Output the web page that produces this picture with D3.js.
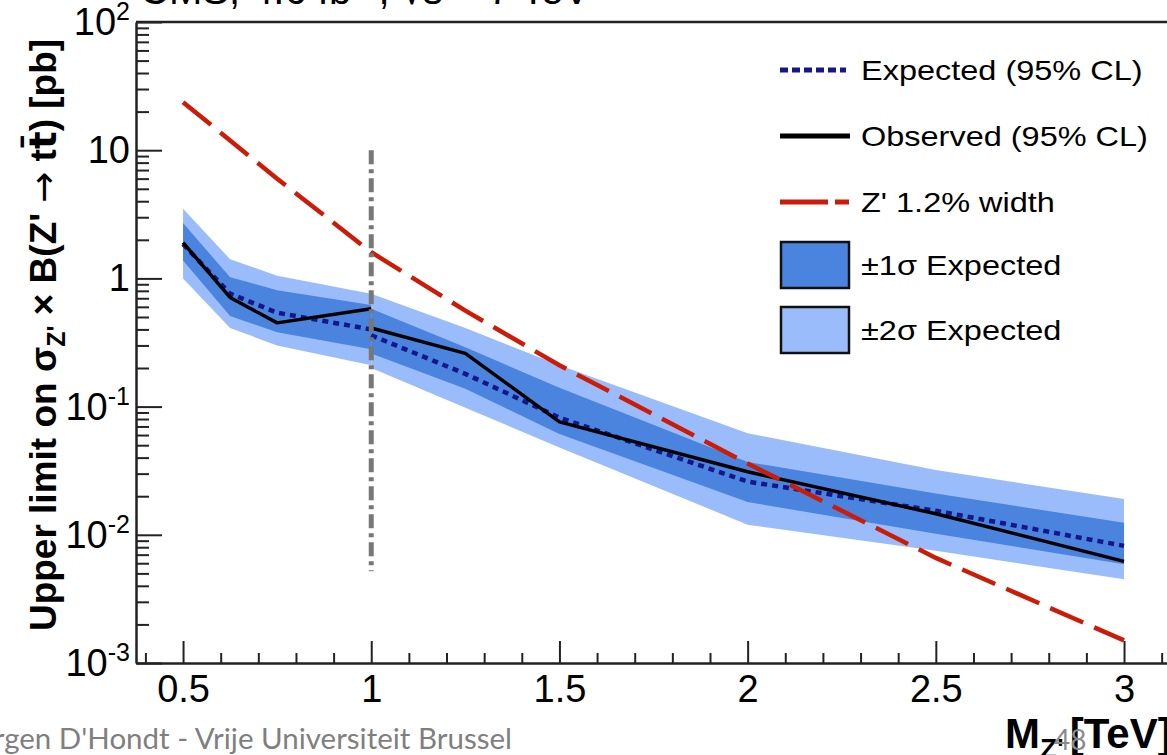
<!DOCTYPE html>
<html>
<head>
<meta charset="utf-8">
<script src="https://cdn.jsdelivr.net/npm/d3@7"></script>
<style>
  body { margin: 0; background: #fff; }
  svg { display: block; }
</style>
</head>
<body>
<svg id="chart" width="1167" height="755"></svg>
<script>
// Low-mass analysis (M_Z' up to 1 TeV)
const massLow = [0.5, 0.625, 0.75, 1.0];
const observedLow = [1.9, 0.71, 0.45, 0.58];
const expectedLow = [1.85, 0.76, 0.54, 0.40];
const sigma1LoLow = [1.38, 0.51, 0.38, 0.28];
const sigma1HiLow = [2.7, 1.02, 0.81, 0.62];
const sigma2LoLow = [1.0, 0.41, 0.30, 0.21];
const sigma2HiLow = [3.5, 1.41, 1.05, 0.76];

// High-mass analysis (M_Z' from 1 TeV)
const massHigh = [1.0, 1.25, 1.5, 2.0, 2.5, 3.0];
const observedHigh = [0.41, 0.26, 0.076, 0.031, 0.0146, 0.0062];
const expectedHigh = [0.36, 0.18, 0.082, 0.026, 0.0154, 0.0082];
const sigma1LoHigh = [0.26, 0.138, 0.061, 0.018, 0.0102, 0.0059];
const sigma1HiHigh = [0.58, 0.29, 0.14, 0.037, 0.021, 0.0124];
const sigma2LoHigh = [0.20, 0.098, 0.048, 0.012, 0.0075, 0.0045];
const sigma2HiHigh = [0.76, 0.41, 0.21, 0.062, 0.032, 0.019];

// Theory prediction, Z' with 1.2% width
const massTheory = [0.5, 0.75, 1.0, 1.25, 1.5, 2.0, 2.5, 3.0];
const xsecTheory = [23.7, 6.0, 1.6, 0.56, 0.21, 0.036, 0.0066, 0.0015];

// Boundary between the two analyses
const boundaryMass = 1.0;
const boundaryRange = [10, 0.0052];

// Axis ticks
const xMajorTicks = [0.5, 1, 1.5, 2, 2.5, 3];
const xTickLabels = ["0.5", "1", "1.5", "2", "2.5", "3"];
const yMajorTicks = [1e2, 1e1, 1, 1e-1, 1e-2, 1e-3];
const yTickBase = ["10", "10", "1", "10", "10", "10"];
const yTickExp = ["2", "", "", "-1", "-2", "-3"];

const legendLabels = ["Expected (95% CL)", "Observed (95% CL)", "Z' 1.2% width", "\u00B11\u03C3 Expected", "\u00B12\u03C3 Expected"];

const colDark = "#4a84de", colLight = "#9bbcfa", colExp = "#16168c", colObs = "#000", colTheory = "#cc1c08";

const svg = d3.select("#chart");
const font = "'Liberation Sans', Arial, Helvetica, sans-serif";

const x = d3.scaleLinear().domain([0.375, 3.2]).range([136, 1199.3]);
const y = d3.scaleLog().domain([1e-3, 1e2]).range([663, 22]);

svg.append("defs").append("clipPath").attr("id", "plotClip")
  .append("rect").attr("x", 136).attr("y", 22).attr("width", 1100).attr("height", 641);

const plot = svg.append("g").attr("clip-path", "url(#plotClip)");

const zip = (m, v) => m.map((d, i) => ({ m: d, v: v[i] }));
const band = (m, lo, hi) => m.map((d, i) => ({ m: d, lo: lo[i], hi: hi[i] }));

const area = d3.area().x(d => x(d.m)).y0(d => y(d.lo)).y1(d => y(d.hi));
const line = d3.line().x(d => x(d.m)).y(d => y(d.v));

// uncertainty bands
[[massLow, sigma2LoLow, sigma2HiLow], [massHigh, sigma2LoHigh, sigma2HiHigh]].forEach(([m, lo, hi]) => {
  plot.append("path").datum(band(m, lo, hi)).attr("d", area).attr("fill", colLight);
});
[[massLow, sigma1LoLow, sigma1HiLow], [massHigh, sigma1LoHigh, sigma1HiHigh]].forEach(([m, lo, hi]) => {
  plot.append("path").datum(band(m, lo, hi)).attr("d", area).attr("fill", colDark);
});

// expected limit
[[massLow, expectedLow], [massHigh, expectedHigh]].forEach(([m, v]) => {
  plot.append("path").datum(zip(m, v)).attr("d", line)
    .attr("fill", "none").attr("stroke", colExp).attr("stroke-width", 4.5)
    .attr("stroke-dasharray", "6,5");
});

// observed limit
[[massLow, observedLow], [massHigh, observedHigh]].forEach(([m, v]) => {
  plot.append("path").datum(zip(m, v)).attr("d", line)
    .attr("fill", "none").attr("stroke", colObs).attr("stroke-width", 3.5)
    .attr("stroke-linejoin", "round");
});

// theory curve
plot.append("path").datum(zip(massTheory, xsecTheory)).attr("d", line)
  .attr("fill", "none").attr("stroke", colTheory).attr("stroke-width", 4.5)
  .attr("stroke-dasharray", "36,12");

// analysis boundary
plot.append("line")
  .attr("x1", x(boundaryMass)).attr("x2", x(boundaryMass))
  .attr("y1", y(boundaryRange[0])).attr("y2", y(boundaryRange[1]))
  .attr("stroke", "#777").attr("stroke-width", 5)
  .attr("stroke-dasharray", "14,5,4,5");

// x axis: major and minor ticks pointing inward
const xMinor = d3.range(4, 32).map(d => d / 10).filter(d => Math.abs(d * 2 - Math.round(d * 2)) > 1e-6);
const xAxisMajor = svg.append("g").attr("transform", "translate(0,663)")
  .call(d3.axisBottom(x).tickValues(xMajorTicks).tickSizeInner(-22).tickSizeOuter(0).tickPadding(12)
    .tickFormat((d, i) => xTickLabels[i]));
xAxisMajor.selectAll("text").attr("font-family", font).attr("font-size", 38).attr("fill", "#000");
const xAxisMinor = svg.append("g").attr("transform", "translate(0,663)")
  .call(d3.axisBottom(x).tickValues(xMinor).tickSizeInner(-10).tickSizeOuter(0).tickFormat(""));
xAxisMinor.select(".domain").remove();

// y axis: decades plus minor ticks
const yMinor = [];
for (let e = -3; e < 2; e++) for (let k = 2; k <= 9; k++) yMinor.push(k * Math.pow(10, e));
const yAxisMajor = svg.append("g").attr("transform", "translate(136,0)")
  .call(d3.axisLeft(y).tickValues(yMajorTicks).tickSizeInner(-26).tickSizeOuter(0).tickFormat(""));
const yAxisMinor = svg.append("g").attr("transform", "translate(136,0)")
  .call(d3.axisLeft(y).tickValues(yMinor).tickSizeInner(-13).tickSizeOuter(0).tickFormat(""));
yAxisMinor.select(".domain").remove();

svg.selectAll(".domain").attr("stroke", "#222").attr("stroke-width", 2.5);
svg.selectAll(".tick line").attr("stroke", "#222").attr("stroke-width", 2);

// top frame
svg.append("line").attr("x1", 136).attr("x2", 1167).attr("y1", y(1e2)).attr("y2", y(1e2))
  .attr("stroke", "#222").attr("stroke-width", 2.5);

// y tick labels with exponents
yMajorTicks.forEach((v, i) => {
  const t = svg.append("text").attr("x", 130).attr("y", y(v) + 13)
    .attr("text-anchor", "end").attr("font-family", font).attr("font-size", 38).attr("fill", "#000");
  t.append("tspan").text(yTickBase[i]);
  if (yTickExp[i]) t.append("tspan").attr("dy", -15).attr("font-size", 25).text(yTickExp[i]);
});

// y axis title
const yt = svg.append("text").attr("transform", "translate(56,335) rotate(-90)")
  .attr("text-anchor", "middle").attr("font-family", font).attr("font-weight", "bold")
  .attr("font-size", 37).attr("fill", "#000");
yt.append("tspan").text("Upper limit on \u03C3");
yt.append("tspan").attr("dy", 9).attr("font-size", 25).text("Z'");
yt.append("tspan").attr("dy", -9).text(" \u00D7 B(Z' ");
yt.append("tspan").attr("font-family", "'DejaVu Sans', sans-serif").attr("font-weight", "normal").text("\u2192");
yt.append("tspan").text(" t");
yt.append("tspan").attr("font-family", "'DejaVu Sans', sans-serif").text("t\u0304");
yt.append("tspan").text(") [pb]");

// x axis title
const xt = svg.append("text").attr("x", 1005).attr("y", 748)
  .attr("font-family", font).attr("font-weight", "bold").attr("font-size", 42).attr("fill", "#000");
xt.append("tspan").text("M");
xt.append("tspan").attr("dy", 10).attr("font-size", 28).text("Z'");
xt.append("tspan").attr("dy", -10).attr("dx", 6).text("[TeV]");

// header, cut at the top edge
svg.append("text").attr("x", 140).attr("y", 4).attr("font-family", font).attr("font-size", 40)
  .attr("fill", "#000").text("CMS, 4.6 fb\u207B\u00B9, \u221As = 7 TeV");

// legend
const lg = svg.append("g").attr("font-family", font).attr("font-size", 28).attr("fill", "#000");
const legY = [70, 136, 202, 265, 330];
lg.append("line").attr("x1", 780).attr("x2", 846).attr("y1", legY[0]).attr("y2", legY[0])
  .attr("stroke", colExp).attr("stroke-width", 5).attr("stroke-dasharray", "8,4");
lg.append("line").attr("x1", 780).attr("x2", 850).attr("y1", legY[1]).attr("y2", legY[1])
  .attr("stroke", colObs).attr("stroke-width", 5);
lg.append("line").attr("x1", 780).attr("x2", 849).attr("y1", legY[2]).attr("y2", legY[2])
  .attr("stroke", colTheory).attr("stroke-width", 5).attr("stroke-dasharray", "48,7,14");
[colDark, colLight].forEach((c, i) => {
  lg.append("rect").attr("x", 781).attr("y", legY[3 + i] - 23).attr("width", 68).attr("height", 46)
    .attr("fill", c).attr("stroke", "#111").attr("stroke-width", 2.5);
});
legendLabels.forEach((s, i) => {
  lg.append("text").attr("transform", `translate(861,${legY[i] + 10}) scale(1.16,1)`).text(s);
});

// slide footer
svg.append("text").attr("x", 512).attr("y", 749).attr("text-anchor", "end")
  .attr("font-family", "Lato, 'Open Sans', sans-serif").attr("font-size", 29.5).attr("fill", "#7f7f7f")
  .text("Jorgen D'Hondt - Vrije Universiteit Brussel");
svg.append("text").attr("x", 1054).attr("y", 750)
  .attr("font-family", "Lato, 'Open Sans', sans-serif").attr("font-size", 28).attr("fill", "#8a8a8a")
  .text("48");
</script>
</body>
</html>
